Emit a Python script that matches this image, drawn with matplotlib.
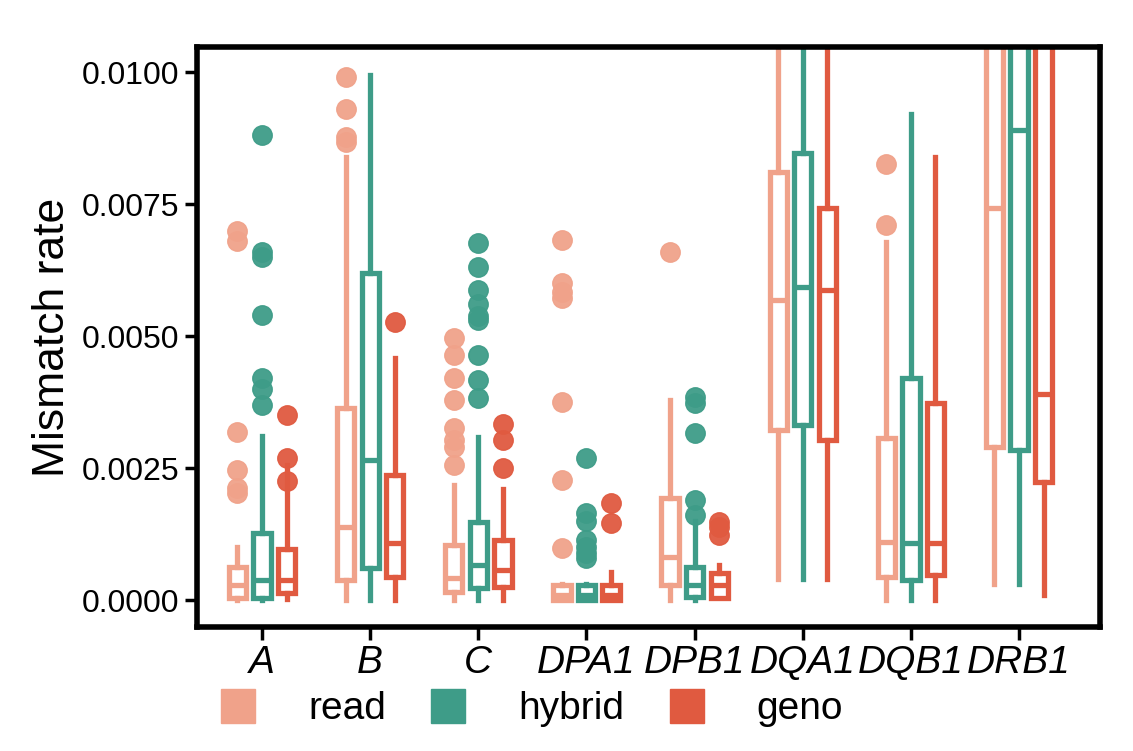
import matplotlib
matplotlib.use("Agg")
import matplotlib.pyplot as plt
from matplotlib.lines import Line2D

plt.rcParams["font.family"] = "Liberation Sans"

genes = ["A", "B", "C", "DPA1", "DPB1", "DQA1", "DQB1", "DRB1"]
series = ["read", "hybrid", "geno"]
colors = {"read": "#F0A28A", "hybrid": "#3E9C88", "geno": "#E05A40"}

# (whislo, q1, med, q3, whishi)
read_stats = [
    (0.0, 0.00005, 0.00028, 0.00063, 0.0010),
    (0.0, 0.00038, 0.00138, 0.00364, 0.0084),
    (0.0, 0.00015, 0.00042, 0.00104, 0.00218),
    (0.0, 0.0, 0.0001, 0.00028, 0.0003),
    (0.0, 0.00028, 0.00081, 0.00193, 0.00379),
    (0.0004, 0.00322, 0.00568, 0.0081, 0.015),
    (0.0, 0.00044, 0.0011, 0.00307, 0.00678),
    (0.0003, 0.0029, 0.00742, 0.0125, 0.016),
]
hybrid_stats = [
    (0.0, 0.00005, 0.00038, 0.00127, 0.0031),
    (0.0, 0.0006, 0.00265, 0.0062, 0.00995),
    (0.0, 0.00023, 0.00066, 0.00148, 0.00309),
    (0.0, 0.0, 0.0001, 0.00028, 0.0003),
    (0.0, 0.00006, 0.00028, 0.00063, 0.0015),
    (0.0004, 0.00331, 0.00593, 0.00847, 0.015),
    (0.0, 0.00038, 0.00108, 0.0042, 0.0092),
    (0.0003, 0.00284, 0.0089, 0.0125, 0.016),
]
geno_stats = [
    (0.00003, 0.00013, 0.00038, 0.00097, 0.00256),
    (0.0, 0.00044, 0.00108, 0.00237, 0.00458),
    (0.0, 0.00025, 0.00057, 0.00114, 0.0021),
    (0.0, 0.0, 0.0001, 0.00028, 0.00053),
    (0.00005, 0.00005, 0.00028, 0.00051, 0.00066),
    (0.0004, 0.00303, 0.00587, 0.00742, 0.015),
    (0.0, 0.00047, 0.00108, 0.00373, 0.0084),
    (0.0001, 0.00223, 0.0039, 0.0125, 0.016),
]
read_fliers = [
    [0.0070, 0.0068, 0.00318, 0.00246, 0.00212, 0.00203],
    [0.0099, 0.0093, 0.00877, 0.00867],
    [0.00496, 0.00464, 0.0042, 0.0038, 0.00326, 0.00303, 0.0029, 0.00256],
    [0.00682, 0.006, 0.00583, 0.00572, 0.00375, 0.00227, 0.00098],
    [0.0066],
    [], [0.00826, 0.0071], [],
]
hybrid_fliers = [
    [0.0088, 0.0066, 0.0065, 0.0054, 0.0042, 0.0040, 0.0037],
    [],
    [0.00676, 0.0063, 0.00587, 0.0056, 0.00538, 0.0053, 0.00464, 0.00417, 0.00383],
    [0.0027, 0.00165, 0.0015, 0.00114, 0.001, 0.0009, 0.0008],
    [0.00384, 0.00373, 0.00316, 0.0019, 0.00161],
    [], [], [],
]
geno_fliers = [
    [0.0035, 0.0027, 0.00225],
    [0.00527],
    [0.00333, 0.00303, 0.0025],
    [0.00184, 0.00146],
    [0.00148, 0.00138, 0.00123],
    [], [], [],
]

all_stats = {"read": read_stats, "hybrid": hybrid_stats, "geno": geno_stats}
all_fliers = {"read": read_fliers, "hybrid": hybrid_fliers, "geno": geno_fliers}
offsets = {"read": -0.227, "hybrid": 0.0, "geno": 0.227}

fig = plt.figure(figsize=(11.33, 7.51), dpi=100)
ax = fig.add_axes([0.174, 0.165, 0.797, 0.772])

for s in series:
    c = colors[s]
    stats = []
    for st, fl in zip(all_stats[s], all_fliers[s]):
        lo, q1, med, q3, hi = st
        stats.append(dict(whislo=lo, q1=q1, med=med, q3=q3, whishi=hi, fliers=fl))
    pos = [i + offsets[s] for i in range(len(genes))]
    ax.bxp(stats, positions=pos, widths=0.16, showcaps=False, patch_artist=True,
           boxprops=dict(facecolor="white", edgecolor=c, linewidth=3.8),
           whiskerprops=dict(color=c, linewidth=3.8),
           medianprops=dict(color=c, linewidth=3.8),
           flierprops=dict(marker="o", markerfacecolor=c, markeredgecolor=c,
                           markersize=14, alpha=0.95))

ax.set_xlim(-0.6, 7.75)
ax.set_ylim(-0.00051, 0.01047)
ax.set_xticks(range(len(genes)))
ax.set_xticklabels(genes, fontsize=28, style="italic")
ax.set_yticks([0, 0.0025, 0.005, 0.0075, 0.01])
ax.set_yticklabels(["0.0000", "0.0025", "0.0050", "0.0075", "0.0100"], fontsize=23)
ax.set_ylabel("Mismatch rate", fontsize=32, labelpad=6)
ax.tick_params(length=9, width=2.5, direction="out", pad=4)
for sp in ax.spines.values():
    sp.set_linewidth(4)

handles = [Line2D([], [], marker="s", linestyle="none", markersize=24,
                  markerfacecolor=colors[s], markeredgecolor=colors[s]) for s in series]
fig.legend(handles, series, loc="lower center", bbox_to_anchor=(0.46, -0.015), ncol=3,
           frameon=False, fontsize=28, handletextpad=0.8, columnspacing=0.6)

fig.savefig("out.png", dpi=100)
